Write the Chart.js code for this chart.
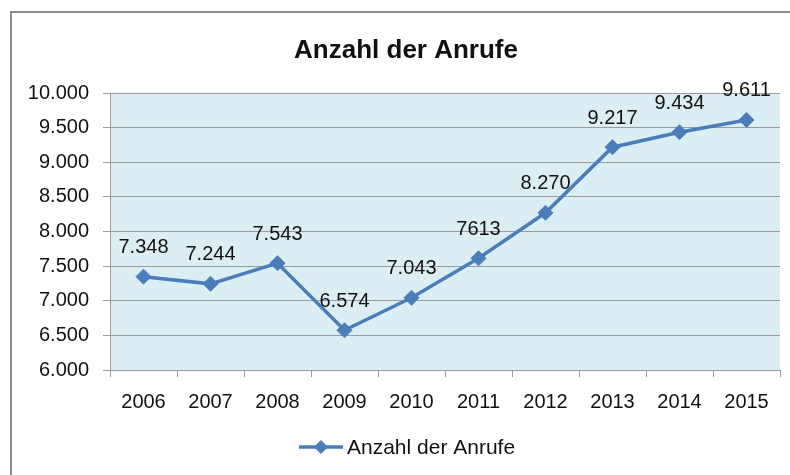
<!DOCTYPE html>
<html>
<head>
<meta charset="utf-8">
<script src="https://cdn.jsdelivr.net/npm/chart.js@4"></script>
<style>
  body { margin: 0; background: #fff; }
</style>
</head>
<body>
<canvas id="myChart" width="790" height="475"></canvas>
<script>
const years = ['2006', '2007', '2008', '2009', '2010', '2011', '2012', '2013', '2014', '2015'];
const calls = [7348, 7244, 7543, 6574, 7043, 7613, 8270, 9217, 9434, 9611];
const callLabels = ['7.348', '7.244', '7.543', '6.574', '7.043', '7613', '8.270', '9.217', '9.434', '9.611'];
const yTicks = [6000, 6500, 7000, 7500, 8000, 8500, 9000, 9500, 10000];
const chartTitle = 'Anzahl der Anrufe';
const seriesName = 'Anzahl der Anrufe';

const blue = '#4A7EBB';
const gridGrey = '#9b9b9b';
const textColor = '#111';
const fontFamily = "'Liberation Sans', Arial, sans-serif";

function formatDe(value) {
    return String(value).replace(/\B(?=(\d{3})+(?!\d))/g, '.');
}

// plot background + outer frame
const backgroundPlugin = {
    id: 'plotBackground',
    beforeDraw(chart) {
        const { ctx, chartArea } = chart;
        ctx.save();
        ctx.fillStyle = '#DBEEF3';
        ctx.fillRect(chartArea.left, chartArea.top, chartArea.right - chartArea.left, chartArea.bottom - chartArea.top);
        ctx.strokeStyle = '#8c8c8c';
        ctx.lineWidth = 2;
        ctx.beginPath();
        ctx.moveTo(11, 475);
        ctx.lineTo(11, 12);
        ctx.lineTo(790, 12);
        ctx.stroke();
        ctx.restore();
    }
};

// value labels above the points
const valueLabelPlugin = {
    id: 'valueLabels',
    afterDatasetsDraw(chart) {
        const { ctx } = chart;
        const meta = chart.getDatasetMeta(0);
        ctx.save();
        ctx.font = '20px ' + fontFamily;
        ctx.fillStyle = textColor;
        ctx.textAlign = 'center';
        ctx.textBaseline = 'middle';
        meta.data.forEach((point, i) => {
            ctx.fillText(callLabels[i], point.x, point.y - 29);
        });
        ctx.restore();
    }
};

// title and legend, centred on the full (uncropped) chart frame
const titleLegendPlugin = {
    id: 'titleLegend',
    afterDraw(chart) {
        const { ctx } = chart;
        ctx.save();
        ctx.fillStyle = textColor;
        ctx.textBaseline = 'alphabetic';

        ctx.font = 'bold 26px ' + fontFamily;
        ctx.textAlign = 'center';
        ctx.fillText(chartTitle, 406, 58);

        // legend line with diamond
        const ly = 447;
        ctx.strokeStyle = blue;
        ctx.lineWidth = 3.5;
        ctx.beginPath();
        ctx.moveTo(299, ly);
        ctx.lineTo(343, ly);
        ctx.stroke();
        ctx.fillStyle = blue;
        ctx.beginPath();
        ctx.moveTo(321, ly - 7);
        ctx.lineTo(328, ly);
        ctx.lineTo(321, ly + 7);
        ctx.lineTo(314, ly);
        ctx.closePath();
        ctx.fill();

        ctx.fillStyle = textColor;
        ctx.font = '21px ' + fontFamily;
        ctx.textAlign = 'left';
        ctx.fillText(seriesName, 347, 454);
        ctx.restore();
    }
};

const ctx = document.getElementById('myChart');

const callChart = new Chart(ctx, {
    type: 'line',
    data: {
        labels: years,
        datasets: [{
            label: seriesName,
            data: calls,
            borderColor: blue,
            backgroundColor: blue,
            borderWidth: 3.5,
            pointStyle: 'rectRot',
            pointRadius: 7.5,
            pointBackgroundColor: blue,
            pointBorderColor: blue,
            pointBorderWidth: 1,
            tension: 0
        }]
    },
    options: {
        responsive: false,
        animation: false,
        devicePixelRatio: 1,
        layout: {
            padding: { left: 0, right: 10, top: 93, bottom: 47 }
        },
        plugins: {
            title: { display: false },
            legend: { display: false },
            tooltip: { enabled: false }
        },
        scales: {
            x: {
                offset: true,
                grid: {
                    offset: true,
                    drawOnChartArea: false,
                    drawTicks: true,
                    tickLength: 7,
                    color: gridGrey
                },
                border: { color: gridGrey, width: 1 },
                ticks: {
                    color: textColor,
                    font: { family: fontFamily, size: 20 },
                    padding: 13,
                    maxRotation: 0
                },
                afterFit(scale) {
                    scale.height = 58;
                }
            },
            y: {
                min: 6000,
                max: 10000,
                afterBuildTicks(scale) {
                    scale.ticks = yTicks.map(v => ({ value: v }));
                },
                grid: {
                    color: gridGrey,
                    tickLength: 7
                },
                border: { color: gridGrey, width: 1 },
                ticks: {
                    color: textColor,
                    font: { family: fontFamily, size: 20 },
                    padding: 14,
                    callback: value => formatDe(value)
                },
                afterFit(scale) {
                    scale.width = 110;
                }
            }
        }
    },
    plugins: [backgroundPlugin, valueLabelPlugin, titleLegendPlugin]
});
</script>
</body>
</html>
